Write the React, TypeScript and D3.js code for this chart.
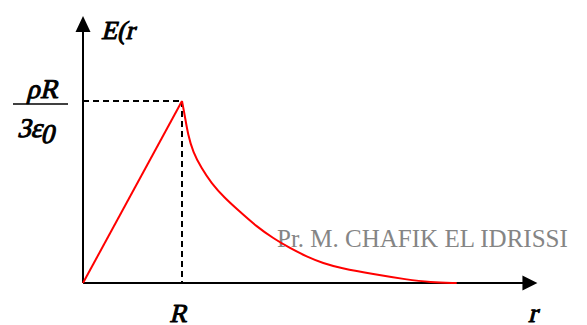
import React from "react";
import * as d3 from "d3";

// Field of a uniformly charged sphere, r in units of R, E in units of ρR/3ε0
const insideR = [0, 1];
const insideE = [0, 1];
const outsideR = [1, 1.027, 1.061, 1.111, 1.195, 1.296, 1.431, 1.566, 1.755, 1.922, 2.091, 2.26, 2.427, 2.596, 2.932, 3.27, 3.505, 3.775];
const outsideE = [1, 0.923, 0.813, 0.72, 0.632, 0.549, 0.467, 0.401, 0.309, 0.246, 0.191, 0.145, 0.108, 0.083, 0.048, 0.019, 0.004, 0];

const rMarks = [1];
const eMarks = [1];

const W = 587;
const H = 325;

export default function App() {
  const x = d3.scaleLinear().domain([0, 1]).range([83, 182]);
  const y = d3.scaleLinear().domain([0, 1]).range([283, 101]);
  const rMaxAxis = 4.59;
  const eMaxAxis = 1.467;

  const line = d3
    .line<[number, number]>()
    .x((d) => x(d[0]))
    .y((d) => y(d[1]));
  const curve = d3
    .line<[number, number]>()
    .x((d) => x(d[0]))
    .y((d) => y(d[1]))
    .curve(d3.curveBasis);

  const inside = insideR.map((r, i) => [r, insideE[i]] as [number, number]);
  const outside = outsideR.map((r, i) => [r, outsideE[i]] as [number, number]);

  const font = "'Liberation Serif', 'Times New Roman', serif";
  const x0 = x(0);
  const y0 = y(0);
  const xTip = x(rMaxAxis);
  const yTip = y(eMaxAxis);

  // heavy slanted serif for the math labels
  const Label = ({ tx, ty, size, anchor, children }: any) => (
    <g transform={`translate(${tx},${ty}) skewX(-14)`}>
      <text x={0} y={0} fontFamily={font} fontSize={size} fill="#000"
        stroke="#000" strokeWidth={1} strokeLinejoin="round" textAnchor={anchor ?? "start"}>
        {children}
      </text>
    </g>
  );

  return (
    <svg
      width={W}
      height={H}
      style={{ position: "absolute", left: 0, top: 0, background: "#fff" }}
    >
      {/* watermark */}
      <text x={277} y={247} fontFamily={font} fontSize={25} fill="#858585">
        Pr. M. CHAFIK EL IDRISSI
      </text>

      {/* axes */}
      <line x1={x0} y1={y0} x2={xTip - 14} y2={y0} stroke="#000" strokeWidth={2} />
      <path d={`M${xTip},${y0} L${xTip - 15},${y0 - 7.5} L${xTip - 15},${y0 + 7.5} Z`} fill="#000" />
      <line x1={x0} y1={y0} x2={x0} y2={yTip + 14} stroke="#000" strokeWidth={2} />
      <path d={`M${x0},${yTip} L${x0 - 7.5},${yTip + 16} L${x0 + 7.5},${yTip + 16} Z`} fill="#000" />

      {/* guides at r = R */}
      {rMarks.map((r) => (
        <line key={"v" + r} x1={x(r)} y1={y(eMarks[0])} x2={x(r)} y2={y0}
          stroke="#000" strokeWidth={2} strokeDasharray="6,4" />
      ))}
      {eMarks.map((e) => (
        <line key={"h" + e} x1={x0} y1={y(e)} x2={x(rMarks[0])} y2={y(e)}
          stroke="#000" strokeWidth={2} strokeDasharray="6,4" />
      ))}

      {/* field */}
      <path d={line(inside) ?? ""} fill="none" stroke="#ff0000" strokeWidth={2} />
      <path d={curve(outside) ?? ""} fill="none" stroke="#ff0000" strokeWidth={2} />

      {/* labels */}
      <Label tx={101} ty={39} size={26}>E(r</Label>
      <Label tx={42} ty={98} size={27} anchor="middle">ρR</Label>
      <line x1={13} y1={104} x2={68} y2={104} stroke="#000" strokeWidth={1.5} />
      <Label tx={17} ty={137} size={27}>
        3ε<tspan dy={6}>0</tspan>
      </Label>
      <Label tx={x(1) - 4} ty={322} size={26} anchor="middle">R</Label>
      <Label tx={x(rMaxAxis) - 5} ty={322} size={27} anchor="middle">r</Label>
    </svg>
  );
}
